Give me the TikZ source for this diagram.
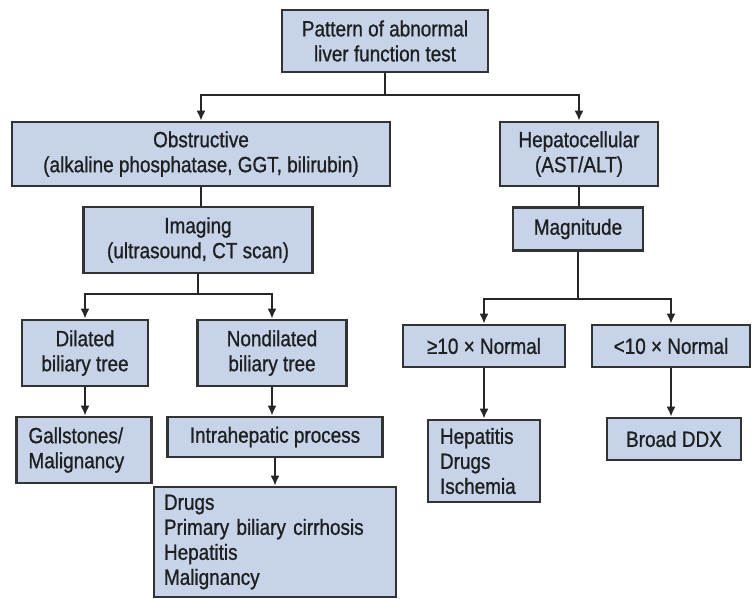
\documentclass[tikz,border=0pt]{standalone}
\usepackage{fontspec}
\setmainfont[FakeStretch=0.86,FakeBold=0.9]{Liberation Sans}
\usetikzlibrary{arrows.meta}
\definecolor{boxblue}{RGB}{198,211,232}

\begin{document}
\begin{tikzpicture}[x=1pt,y=-1pt,
    box/.style={draw=black!80, fill=boxblue, line width=2.6pt, inner sep=0pt,
        align=center, text=black!88, font=\fontsize{22}{25}\selectfont},
    lbox/.style={box, align=left, inner xsep=12pt},
    line/.style={line width=2.2pt, draw=black!85},
    arr/.style={line, -{Latex[length=10pt,width=9pt]}}]
            \useasboundingbox (0,0) rectangle (753,598);

            % top
            \node[box, minimum width=206pt, minimum height=62pt] (root) at (385,41)
                {Pattern of abnormal\\liver function test};
            \node[box, minimum width=378pt, minimum height=64pt] (obst) at (201,154)
                {Obstructive\\(alkaline phosphatase, GGT, bilirubin)};
            \node[box, minimum width=158pt, minimum height=64pt] (hepa) at (579,154)
                {Hepatocellular\\(AST/ALT)};

            % obstructive side
            \node[box, minimum width=229pt, minimum height=66pt] (imag) at (198,240)
                {Imaging\\(ultrasound, CT scan)};
            \node[box, minimum width=126pt, minimum height=66pt] (dila) at (85,353)
                {Dilated\\biliary tree};
            \node[box, minimum width=149pt, minimum height=66pt] (nond) at (272,353)
                {Nondilated\\biliary tree};
            \node[lbox, text width=111pt, minimum height=66pt] (gall) at (84,450)
                {Gallstones/\\Malignancy};
            \node[box, minimum width=215pt, minimum height=40pt] (intr) at (275,437)
                {Intrahepatic process};
            \node[lbox, inner xsep=10pt, text width=222pt, minimum height=110pt] (list) at (275,542)
                {Drugs\\Primary biliary cirrhosis\\Hepatitis\\Malignancy};

            % hepatocellular side
            \node[box, minimum width=130pt, minimum height=43pt] (magn) at (578,229)
                {Magnitude};
            \node[box, minimum width=162pt, minimum height=42pt] (ge10) at (484,346)
                {≥10 × Normal};
            \node[box, minimum width=158pt, minimum height=42pt] (lt10) at (671,346)
                {<10 × Normal};
            \node[lbox, text width=88pt, minimum height=82pt] (hepl) at (484,461)
                {Hepatitis\\Drugs\\Ischemia};
            \node[box, minimum width=134pt, minimum height=42pt] (ddx) at (674,439)
                {Broad DDX};

            % connectors
            \draw[arr] (root.south) -- ++(0,22) -| (obst.north);
            \draw[arr] (root.south) -- ++(0,22) -| (hepa.north);
            \draw[line] (obst.south) -- (obst.south |- imag.north);
            \draw[line] (hepa.south) -- (hepa.south |- magn.north);
            \draw[arr] (imag.south) -- ++(0,20) -| (dila.north);
            \draw[arr] (imag.south) -- ++(0,20) -| (nond.north);
            \draw[arr] (magn.south) -- ++(0,47) -| (ge10.north);
            \draw[arr] (magn.south) -- ++(0,47) -| (lt10.north);
            \draw[arr] (dila.south) -- (dila.south |- gall.north);
            \draw[arr] (nond.south) -- (nond.south |- intr.north);
            \draw[arr] (intr.south) -- (intr.south |- list.north);
            \draw[arr] (ge10.south) -- (ge10.south |- hepl.north);
            \draw[arr] (lt10.south) -- (lt10.south |- ddx.north);
        \end{tikzpicture}
\end{document}
